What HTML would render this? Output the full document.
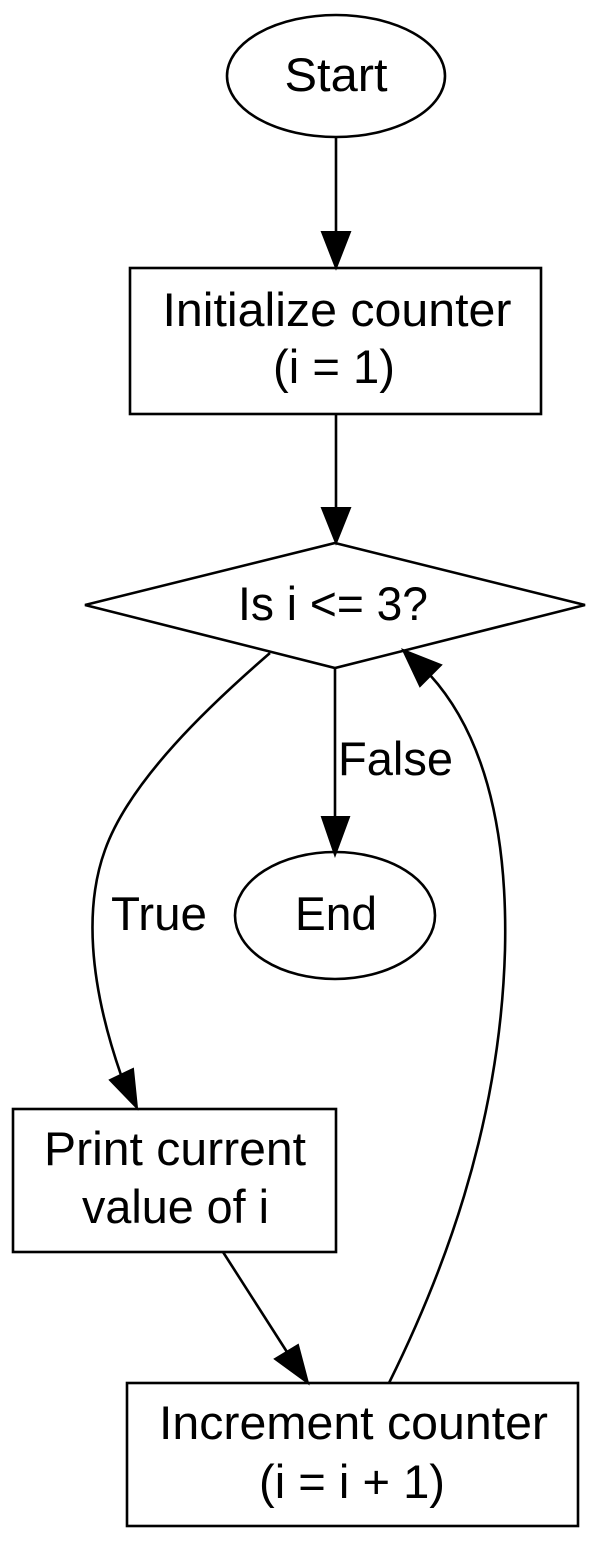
<!DOCTYPE html>
<html>
<head>
<meta charset="utf-8">
<style>
  html, body { margin: 0; padding: 0; background: #fff; }
  svg { display: block; }
  text { font-family: "Liberation Sans", Arial, Helvetica, sans-serif; font-size: 47px; fill: #000; }
</style>
</head>
<body>
<svg width="600" height="1541" viewBox="0 0 600 1541" xmlns="http://www.w3.org/2000/svg">
  <rect x="0" y="0" width="600" height="1541" fill="#fff"/>
  <g fill="none" stroke="#000" stroke-width="2.6">
    <!-- Start -->
    <ellipse cx="336" cy="76" rx="109" ry="61"/>
    <!-- Init -->
    <rect x="130" y="268" width="411" height="146"/>
    <!-- Diamond -->
    <polygon points="335,543 585,605 335,668 85,605"/>
    <!-- End -->
    <ellipse cx="335" cy="915.5" rx="100" ry="63.5"/>
    <!-- Print -->
    <rect x="13" y="1109" width="323" height="143"/>
    <!-- Increment -->
    <rect x="127" y="1383" width="451" height="143"/>

    <!-- edges -->
    <line x1="336" y1="138" x2="336" y2="233"/>
    <line x1="336" y1="414" x2="336" y2="509"/>
    <line x1="335" y1="668" x2="335" y2="818"/>
    <path d="M270,653 C210,705 130,780 105,850 C85,905 88,980 121,1075"/>
    <line x1="223" y1="1252" x2="287" y2="1352"/>
    <path d="M389,1383 C440,1280 500,1130 505,950 C508,820 480,730 430,675"/>
  </g>
  <g fill="#000" stroke="#000" stroke-width="2">
    <polygon points="322,232 350,232 336,268"/>
    <polygon points="322,508 350,508 336,543"/>
    <polygon points="322,817 349,817 335,855"/>
    <polygon points="110,1080 133,1069 137,1108"/>
    <polygon points="275,1359 298,1345 308,1383"/>
    <polygon points="420,686 441,665 403,650"/>
  </g>

  <!-- labels -->
  <text x="336" y="91" text-anchor="middle" textLength="103" lengthAdjust="spacingAndGlyphs">Start</text>
  <text x="337" y="326" text-anchor="middle" textLength="349" lengthAdjust="spacingAndGlyphs">Initialize counter</text>
  <text x="334" y="383" text-anchor="middle" textLength="122" lengthAdjust="spacingAndGlyphs">(i = 1)</text>
  <text x="333" y="620" text-anchor="middle" textLength="190" lengthAdjust="spacingAndGlyphs">Is i &lt;= 3?</text>
  <text x="338" y="775" textLength="115" lengthAdjust="spacingAndGlyphs">False</text>
  <text x="111" y="930" textLength="96" lengthAdjust="spacingAndGlyphs">True</text>
  <text x="336" y="930" text-anchor="middle" textLength="82" lengthAdjust="spacingAndGlyphs">End</text>
  <text x="175" y="1165" text-anchor="middle" textLength="262" lengthAdjust="spacingAndGlyphs">Print current</text>
  <text x="175.5" y="1223" text-anchor="middle" textLength="187" lengthAdjust="spacingAndGlyphs">value of i</text>
  <text x="353.5" y="1439" text-anchor="middle" textLength="389" lengthAdjust="spacingAndGlyphs">Increment counter</text>
  <text x="352" y="1498" text-anchor="middle" textLength="186" lengthAdjust="spacingAndGlyphs">(i = i + 1)</text>
</svg>
</body>
</html>
